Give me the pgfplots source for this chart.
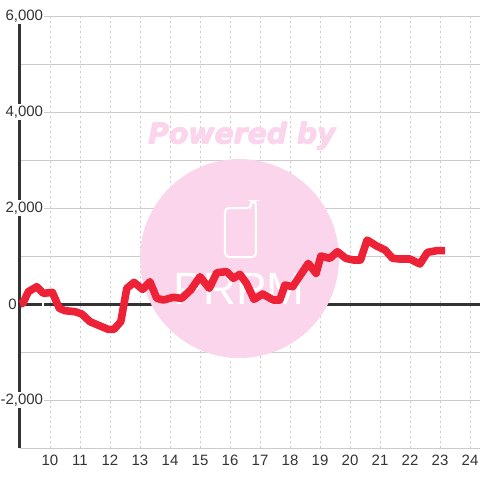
\documentclass[border=0pt]{standalone}
\usepackage{fontspec}
\setmainfont{Liberation Sans}
\newfontfamily\wmfont{DejaVu Sans}
\usepackage{pgfplots}
\pgfplotsset{compat=1.18}
\definecolor{wmpink}{HTML}{FBD5EC}
\definecolor{gridgray}{HTML}{CCCCCC}
\definecolor{axisdark}{HTML}{333333}
\definecolor{linered}{HTML}{EE2237}
\begin{document}
\begin{tikzpicture}
% watermark sits behind the grid, coordinates in reference pixels
\begin{scope}[x=0.75pt,y=-0.75pt,yshift=360pt]
\fill[wmpink] (239.5,258.5) circle (99.5);
% heavier text: same node a few times, slightly offset
\foreach \dx/\dy in {-0.6/0,0.6/0,0/-0.5,0/0.5}
  \node[font=\wmfont\bfseries\itshape\fontsize{21.2pt}{24pt}\selectfont,text=wmpink,inner sep=0pt] at (242+\dx,136+\dy) {Powered by};
\draw[white,line width=1.5pt,rounded corners=3pt] (225,208) -- (225,257) -- (256,257) -- (256,201) -- (251,201) -- (251,208) -- cycle;
\node[font=\fontsize{34pt}{34pt}\selectfont,text=white,inner sep=0pt] at (239,289) {PRPM};
\end{scope}
\begin{axis}[
    at={(15pt,24pt)}, anchor=south west,
    scale only axis,
    width=345pt, height=324pt,
    xmin=9, xmax=24.333,
    ymin=-3000, ymax=6000,
    axis line style={draw=none},
    set layers=standard,
    clip=false,
    xtick={10,...,24},
    ytick={-2000,2000,4000,6000},
    minor ytick={-3000,-1000,1000,3000,5000},
    major tick length=0pt,
    minor tick length=0pt,
    xmajorgrids, ymajorgrids, yminorgrids,
    major grid style={draw=gridgray,line width=0.75pt},
    minor grid style={draw=gridgray,line width=0.75pt},
    x grid style={dash pattern=on 1.5pt off 2.25pt},
    extra x ticks={9},
    extra x tick labels={},
    extra x tick style={
        major grid style={draw=axisdark,line width=2.25pt},
        x grid style={solid},
        every axis x grid/.style={solid}},
    extra y ticks={0},
    extra y tick labels={},
    extra y tick style={
        major grid style={draw=axisdark,line width=2.25pt,solid}},
    tick label style={font=\fontsize{11.25pt}{12pt}\selectfont,text=axisdark},
    xticklabel style={yshift=-2pt},
    yticklabel style={anchor=east,xshift=18.5pt,fill=white,inner xsep=1pt,inner ysep=1.5pt},
    /pgf/number format/assume math mode=true,
    /pgf/number format/1000 sep={,},
]
\addplot[linered,line width=5.7pt,line join=round,line cap=butt] coordinates {
(9.0,0) (9.1,20) (9.28,257) (9.56,361) (9.78,222) (10.08,243) (10.31,-90) (10.5,-139)
(10.83,-160) (11.06,-208) (11.33,-368) (11.67,-458) (11.94,-528) (12.13,-528) (12.36,-368)
(12.56,326) (12.8,451) (13.09,305) (13.33,465) (13.56,118) (13.78,83) (14.11,139) (14.39,118)
(14.69,292) (15,569) (15.31,326) (15.56,653) (15.89,674) (16.11,535) (16.33,620) (16.55,430)
(16.8,97) (17.09,208) (17.44,83) (17.66,83) (17.83,396) (18.09,361) (18.61,847) (18.87,639)
(19.03,1000) (19.33,951) (19.58,1090) (19.86,951) (20.11,917) (20.35,917) (20.57,1333)
(20.89,1208) (21.17,1125) (21.42,951) (21.66,937) (22,937) (22.33,833) (22.58,1076)
(22.89,1111) (23.17,1111)
};
% the zero label sits left of the axis line, unlike the others
\node[anchor=east,inner sep=0pt,xshift=-2.25pt,font=\fontsize{11.25pt}{12pt}\selectfont,text=axisdark] at (axis cs:9,0) {0};
\end{axis}
% page frame 360pt square = 480 px
\pgfresetboundingbox
\path[use as bounding box] (0,0) rectangle (360pt,360pt);
\end{tikzpicture}
\end{document}
